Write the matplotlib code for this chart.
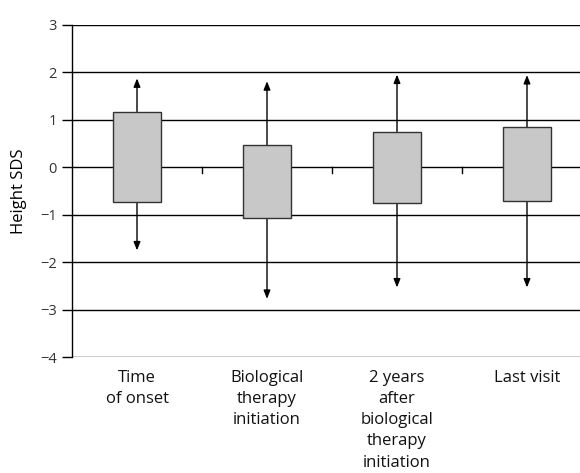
import numpy as np
import matplotlib
matplotlib.use("Agg")
import matplotlib.pyplot as plt
from matplotlib import transforms

plt.rcParams['font.family'] = ['Open Sans', 'DejaVu Sans']

# data
categories = ['Time\nof onset', 'Biological\ntherapy\ninitiation',
              '2 years\nafter\nbiological\ntherapy\ninitiation', 'Last visit']
q1 = [-0.74, -1.06, -0.76, -0.72]
q3 = [1.17, 0.46, 0.75, 0.84]
wmin = [-1.75, -2.77, -2.53, -2.53]
wmax = [1.87, 1.81, 1.95, 1.94]
yticks = [3, 2, 1, 0, -1, -2, -3, -4]

fig = plt.figure(figsize=(5.8, 4.73), dpi=100)
ax = fig.add_axes([72 / 580, 1 - 357.3 / 473, 520 / 580, (357.3 - 24.7) / 473])

x = np.arange(1, len(categories) + 1)

# horizontal gridlines
for y in yticks:
    ax.axhline(y, color='black', lw=1.0, zorder=1)

# boxes
bw = 0.37
for xi, lo, hi, mn, mx in zip(x, q1, q3, wmin, wmax):
    ax.add_patch(plt.Rectangle((xi - bw / 2, lo), bw, hi - lo, facecolor='#c8c8c8',
                               edgecolor='#333333', lw=1.0, zorder=3))
    for start, end in [(hi, mx), (lo, mn)]:
        ax.annotate('', xy=(xi, end), xytext=(xi, start),
                    arrowprops=dict(arrowstyle='-|>,head_length=0.5,head_width=0.2',
                                    color='black', lw=1.0, shrinkA=0, shrinkB=0),
                    zorder=2)

# category boundary ticks on zero line
for b in x[:-1] + 0.5:
    ax.plot([b, b], [0, -0.12], color='black', lw=1.0, zorder=2)

ax.set_xlim(0.5, len(categories) + 0.5)
ax.set_ylim(-4, 3)
ax.set_yticks(yticks)
ax.set_yticklabels([str(t).replace('-', '\u2212') for t in yticks], fontsize=10.5, color='#333333')
ax.tick_params(axis='y', direction='out', length=7, width=1, pad=4)
ax.set_xticks([])
for s in ['top', 'right', 'bottom']:
    ax.spines[s].set_visible(False)
ax.spines['left'].set_linewidth(1.0)

trans = transforms.blended_transform_factory(ax.transData, ax.transAxes)
for xi, lab in zip(x, categories):
    ax.text(xi, -0.038, lab, transform=trans, ha='center', va='top', fontsize=12,
            linespacing=1.43, color='#111111')

ax.set_ylabel('Height SDS', fontsize=12, labelpad=9)

fig.savefig('out.png', dpi=100)
